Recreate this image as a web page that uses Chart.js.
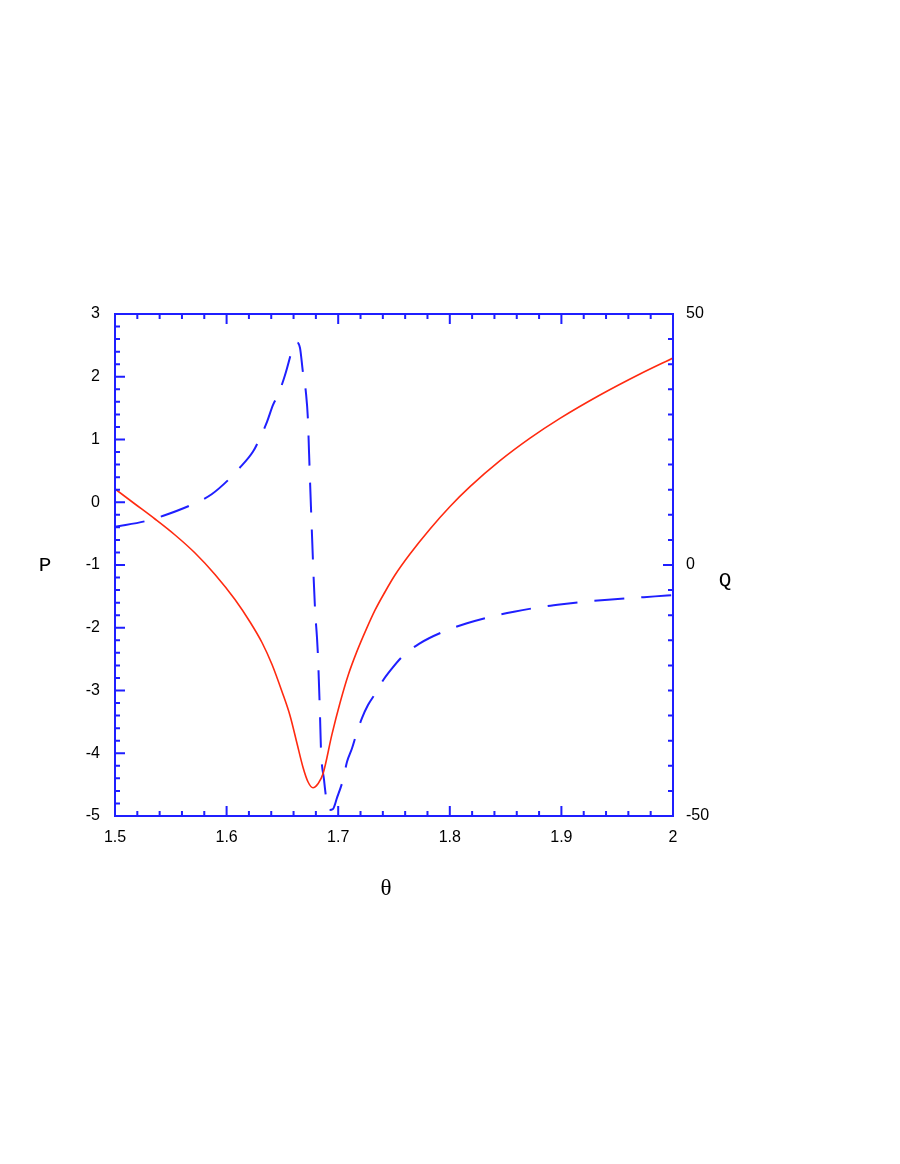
<!DOCTYPE html>
<html>
<head>
<meta charset="utf-8">
<script src="https://cdn.jsdelivr.net/npm/chart.js@4/dist/chart.umd.min.js"></script>
<style>
  html, body { margin: 0; padding: 0; background: #ffffff; }
  canvas { display: block; }
</style>
</head>
<body>
<canvas id="c" width="900" height="1164"></canvas>
<script>
// ---- data ----
const thetaP = [1.5000, 1.5179, 1.5358, 1.5538, 1.5717, 1.5896, 1.6075, 1.6210, 1.6317, 1.6407, 1.6496, 1.6568, 1.6631, 1.6685, 1.6729, 1.6774, 1.6819, 1.6864, 1.6944, 1.7016, 1.7090, 1.7166, 1.7255, 1.7330, 1.7419, 1.7509, 1.7643, 1.7823, 1.8002, 1.8181, 1.8450, 1.8719, 1.8987, 1.9346, 1.9704, 2.0000];
const valuesP = [0.211, -0.028, -0.267, -0.522, -0.809, -1.151, -1.550, -1.908, -2.235, -2.586, -3.016, -3.398, -3.845, -4.227, -4.454, -4.550, -4.486, -4.327, -3.70, -3.20, -2.753, -2.385, -2.01, -1.72, -1.43, -1.16, -0.825, -0.426, -0.068, 0.248, 0.662, 1.021, 1.336, 1.709, 2.044, 2.299];

const thetaQ = [1.5000, 1.5284, 1.5433, 1.5702, 1.5866, 1.6013, 1.6102, 1.6237, 1.6299, 1.6362, 1.6416, 1.6461, 1.6523, 1.6568, 1.6595, 1.6631, 1.6658, 1.6685, 1.6711, 1.6729, 1.6738, 1.6756, 1.6792, 1.6810, 1.6819, 1.6828, 1.6837, 1.6846, 1.6873, 1.6891, 1.6918, 1.6953, 1.6989, 1.7043, 1.7079, 1.7124, 1.7168, 1.7213, 1.7267, 1.7330, 1.7401, 1.7482, 1.7572, 1.7724, 1.7984, 1.8154, 1.8405, 1.8575, 1.8835, 1.9005, 1.9167, 1.9418, 1.9677, 1.9839, 2.0000];
const valuesQ = [7.6, 8.8, 9.8, 12.15, 14.1, 16.9, 19.0, 22.6, 25.3, 28.5, 31.9, 33.9, 37.8, 41.4, 43.8, 44.3, 43.2, 38.2, 34.3, 28.9, 22.9, 11.5, -8.6, -14.5, -18.3, -23.9, -30.0, -36.9, -42.8, -46.2, -48.8, -48.6, -46.4, -42.8, -39.2, -36.5, -33.3, -30.5, -27.9, -25.7, -23.0, -20.6, -18.3, -15.7, -12.9, -11.6, -10.1, -9.3, -8.3, -7.8, -7.4, -6.9, -6.5, -6.25, -6.0];

const xTicks = [1.5, 1.6, 1.7, 1.8, 1.9, 2];
const pTicks = [-5, -4, -3, -2, -1, 0, 1, 2, 3];
const qTicks = [-50, 0, 50];
const xTitle = 'θ';
const pTitle = 'P';
const qTitle = 'Q';

const AXIS = '#1f1fff';
const RED = '#ff2a10';
const BLUE = '#1f1fff';

const toPts = (xs, ys) => xs.map((x, i) => ({ x: x, y: ys[i] }));

const frame = {
  id: 'frame',
  afterDraw(chart) {
    const ctx = chart.ctx;
    const a = chart.chartArea;
    const sx = chart.scales.x, sp = chart.scales.yP, sq = chart.scales.yQ;
    ctx.save();
    ctx.strokeStyle = AXIS;
    ctx.lineWidth = 2;
    ctx.beginPath();
    ctx.rect(a.left, a.top, a.right - a.left, a.bottom - a.top);
    ctx.stroke();
    ctx.beginPath();
    // x ticks: bottom and top
    for (let i = 0; i <= 25; i++) {
      const v = 1.5 + i * 0.02;
      const px = sx.getPixelForValue(v);
      const len = (i % 5 === 0) ? 10 : 5;
      ctx.moveTo(px, a.bottom); ctx.lineTo(px, a.bottom - len);
      ctx.moveTo(px, a.top); ctx.lineTo(px, a.top + len);
    }
    // left ticks (P)
    for (let i = 0; i <= 40; i++) {
      const v = -5 + i * 0.2;
      const py = sp.getPixelForValue(v);
      const len = (i % 5 === 0) ? 10 : 5;
      ctx.moveTo(a.left, py); ctx.lineTo(a.left + len, py);
    }
    // right ticks (Q)
    for (let i = 0; i <= 20; i++) {
      const v = -50 + i * 5;
      const py = sq.getPixelForValue(v);
      const len = (i % 10 === 0) ? 10 : 5;
      ctx.moveTo(a.right, py); ctx.lineTo(a.right - len, py);
    }
    ctx.stroke();
    // axis titles
    ctx.fillStyle = '#000';
    ctx.textAlign = 'center';
    ctx.textBaseline = 'middle';
    ctx.font = '21px "Liberation Mono", "DejaVu Sans Mono", monospace';
    ctx.fillText(pTitle, 45, sp.getPixelForValue(-1));
    ctx.fillText(qTitle, 725, sq.getPixelForValue(-3));
    ctx.font = '23px "Liberation Serif", "DejaVu Serif", serif';
    ctx.fillText(xTitle, 386, 889);
    ctx.restore();
  }
};

const tickFont = { family: '"Liberation Sans", Arial, sans-serif', size: 16 };
const fmt = v => String(Number(v.toFixed(2)));

new Chart(document.getElementById('c'), {
  type: 'line',
  data: {
    datasets: [
      {
        label: 'P',
        data: toPts(thetaP, valuesP),
        yAxisID: 'yP',
        borderColor: RED,
        borderWidth: 1.6,
        pointRadius: 0,
        fill: false,
        cubicInterpolationMode: 'monotone'
      },
      {
        label: 'Q',
        data: toPts(thetaQ, valuesQ),
        yAxisID: 'yQ',
        borderColor: BLUE,
        borderWidth: 2,
        borderDash: [30, 17],
        pointRadius: 0,
        fill: false,
        cubicInterpolationMode: 'monotone'
      }
    ]
  },
  options: {
    responsive: false,
    animation: false,
    devicePixelRatio: 1,
    layout: { padding: { top: 314, left: 0, right: 0, bottom: 0 } },
    plugins: { legend: { display: false }, tooltip: { enabled: false }, title: { display: false } },
    scales: {
      x: {
        type: 'linear', position: 'bottom', min: 1.5, max: 2,
        grid: { display: false, drawTicks: false },
        border: { display: false },
        afterBuildTicks: s => { s.ticks = xTicks.map(v => ({ value: v })); },
        ticks: { color: '#000', font: tickFont, padding: 12, maxRotation: 0, autoSkip: false, callback: v => fmt(v) },
        afterFit: s => { s.height = 348; }
      },
      yP: {
        type: 'linear', position: 'left', min: -5, max: 3,
        grid: { display: false, drawTicks: false },
        border: { display: false },
        afterBuildTicks: s => { s.ticks = pTicks.map(v => ({ value: v })); },
        ticks: { color: '#000', font: tickFont, padding: 15, autoSkip: false, callback: v => fmt(v) },
        afterFit: s => { s.width = 115; }
      },
      yQ: {
        type: 'linear', position: 'right', min: -50, max: 50,
        grid: { display: false, drawTicks: false },
        border: { display: false },
        afterBuildTicks: s => { s.ticks = qTicks.map(v => ({ value: v })); },
        ticks: { color: '#000', font: tickFont, padding: 13, autoSkip: false, callback: v => fmt(v) },
        afterFit: s => { s.width = 227; }
      }
    }
  },
  plugins: [frame]
});
</script>
</body>
</html>
